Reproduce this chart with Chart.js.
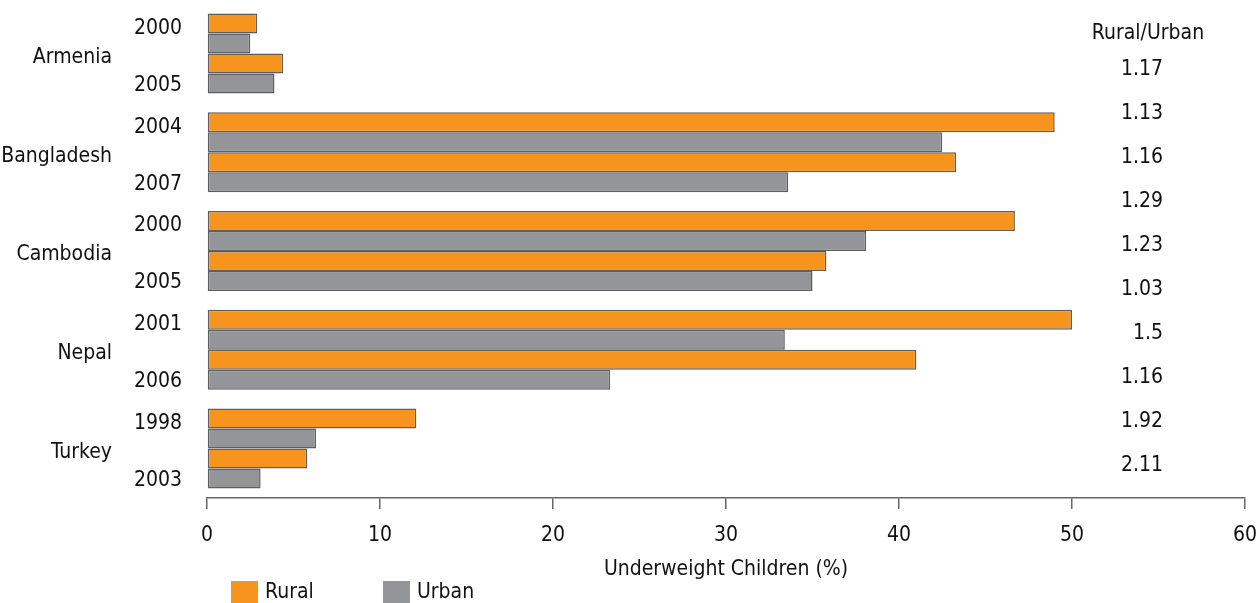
<!DOCTYPE html>
<html>
<head>
<meta charset="utf-8">
<script src="https://cdn.jsdelivr.net/npm/chart.js@4"></script>
<style>
	html, body { margin: 0; padding: 0; background: #fff; }
	canvas { display: block; }
</style>
</head>
<body>
<canvas id="chart" width="1258" height="603"></canvas>
<script>
var countries = ['Armenia', 'Bangladesh', 'Cambodia', 'Nepal', 'Turkey'];
var firstYears = ['2000', '2004', '2000', '2001', '1998'];
var secondYears = ['2005', '2007', '2005', '2006', '2003'];

var ruralFirst = [2.9, 49.0, 46.7, 50.0, 12.1];
var urbanFirst = [2.5, 42.5, 38.1, 33.4, 6.3];
var ruralSecond = [4.4, 43.3, 35.8, 41.0, 5.8];
var urbanSecond = [3.9, 33.6, 35.0, 23.3, 3.1];

var ratioTitle = 'Rural/Urban';
var ratioLabels = ['1.17', '1.13', '1.16', '1.29', '1.23', '1.03', '1.5', '1.16', '1.92', '2.11'];

var xTicks = [0, 10, 20, 30, 40, 50, 60];
var xTitle = 'Underweight Children (%)';
var seriesNames = ['Rural', 'Urban'];

var orange = '#f7941e';
var grey = '#939598';
var edge = '#5e5e60';
var font = '"Liberation Sans Narrow", "DejaVu Sans Condensed", "Arial Narrow", sans-serif';
var fontSize = 21;

function barSet(label, data, color) {
	return {
		label: label,
		data: data,
		backgroundColor: color,
		borderColor: edge,
		borderWidth: 1.5,
		borderSkipped: false,
		barPercentage: 1,
		categoryPercentage: 0.81
	};
}

// country / year labels on the left, ratio column on the right, legend at the bottom
var sideText = {
	id: 'sideText',
	afterDraw: function (chart) {
		var ctx = chart.ctx;
		var y = chart.scales.y;
		var band = (y.getPixelForValue(1) - y.getPixelForValue(0));
		var bar = band * 0.81 / 4;

		ctx.save();
		ctx.fillStyle = '#111';
		ctx.font = fontSize + 'px ' + font;
		ctx.textBaseline = 'middle';

		countries.forEach(function (name, i) {
			var c = y.getPixelForValue(i);
			ctx.textAlign = 'right';
			ctx.fillText(name, 112, c + 4);
			ctx.fillText(firstYears[i], 182, c - bar * 1.25);
			ctx.fillText(secondYears[i], 182, c + bar * 1.6);
		});

		var first = y.getPixelForValue(0) + bar * 0.8;
		var step = band * 0.445;
		ctx.textAlign = 'center';
		ctx.fillText(ratioTitle, 1148, y.getPixelForValue(0) - 20);
		ctx.textAlign = 'right';
		ratioLabels.forEach(function (txt, i) {
			ctx.fillText(txt, 1163, first + step * i);
		});

		// legend
		var items = [
			{ text: seriesNames[0], color: orange, x: 231 },
			{ text: seriesNames[1], color: grey, x: 383 }
		];
		ctx.textAlign = 'left';
		items.forEach(function (item) {
			ctx.fillStyle = item.color;
			ctx.fillRect(item.x, 581, 27, 24);
			ctx.fillStyle = '#111';
			ctx.fillText(item.text, item.x + 34, 593);
		});
		ctx.restore();
	}
};

new Chart(document.getElementById('chart'), {
	type: 'bar',
	data: {
		labels: countries,
		datasets: [
			barSet('Rural', ruralFirst, orange),
			barSet('Urban', urbanFirst, grey),
			barSet('Rural', ruralSecond, orange),
			barSet('Urban', urbanSecond, grey)
		]
	},
	options: {
		indexAxis: 'y',
		responsive: false,
		animation: false,
		layout: { padding: { top: 4, right: 13, bottom: 0, left: 0 } },
		plugins: {
			legend: { display: false },
			tooltip: { enabled: false }
		},
		scales: {
			x: {
				type: 'linear',
				min: xTicks[0],
				max: xTicks[xTicks.length - 1],
				afterBuildTicks: function (scale) {
					scale.ticks = xTicks.map(function (v) { return { value: v }; });
				},
				afterFit: function (scale) {
					scale.height = 105;
					scale.paddingRight = 0;
					scale.paddingLeft = 0;
				},
				ticks: {
					color: '#111',
					font: { family: font, size: fontSize },
					padding: 14,
					maxRotation: 0
				},
				grid: {
					drawOnChartArea: false,
					drawTicks: true,
					tickLength: 11,
					color: '#666',
					lineWidth: 1.5
				},
				border: { color: '#666', width: 1.5 },
				title: {
					display: true,
					text: xTitle,
					color: '#111',
					font: { family: font, size: fontSize },
					padding: { top: 4, bottom: 21 }
				}
			},
			y: {
				type: 'category',
				afterFit: function (scale) { scale.width = 207; },
				ticks: { display: false },
				grid: { display: false },
				border: { display: false }
			}
		}
	},
	plugins: [sideText]
});
</script>
</body>
</html>
